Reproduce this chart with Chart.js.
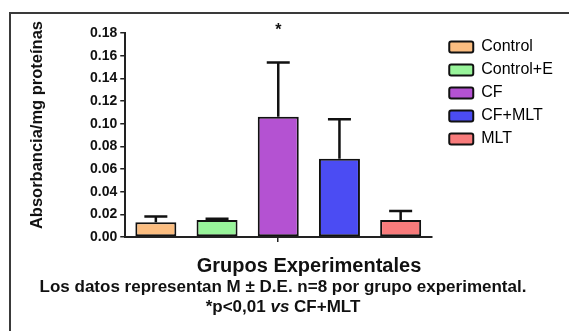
<!DOCTYPE html>
<html lang="es">
<head>
    <meta charset="UTF-8">
    <title>Absorbancia por grupo experimental</title>
    <script src="https://cdn.jsdelivr.net/npm/chart.js"></script>
    <style>
        body {
            margin: 0;
            width: 569px;
            height: 331px;
            overflow: hidden;
            background: #fff;
            color: #111;
            font-family: 'Liberation Sans', Arial, sans-serif;
            position: relative;
        }
        .frame {
            position: absolute;
            left: 9px;
            top: 12px;
            width: 600px;
            height: 400px;
            border-top: 2px solid #3a3a3a;
            border-left: 2px solid #3a3a3a;
        }
        .chart-wrapper {
            position: absolute;
            left: 0;
            top: 0;
            width: 569px;
            height: 331px;
        }
        .y-title {
            position: absolute;
            left: -84px;
            top: 115px;
            width: 240px;
            height: 20px;
            line-height: 20px;
            text-align: center;
            font-weight: bold;
            font-size: 16.5px;
            transform: rotate(-90deg);
        }
        .x-title {
            position: absolute;
            left: 0;
            width: 618px;
            top: 254px;
            line-height: 22px;
            text-align: center;
            font-weight: bold;
            font-size: 20px;
        }
        .caption {
            position: absolute;
            left: 0;
            width: 566px;
            top: 277px;
            line-height: 20px;
            text-align: center;
            font-weight: bold;
            font-size: 17px;
        }
    </style>
</head>
<body>
    <div class="frame"></div>
    <div class="chart-wrapper">
        <canvas id="absChart"></canvas>
    </div>
    <div class="y-title">Absorbancia/mg proteínas</div>
    <div class="x-title">Grupos Experimentales</div>
    <div class="caption">
        Los datos representan M ± D.E. n=8 por grupo experimental.<br>
        *p&lt;0,01 <i>vs</i> CF+MLT
    </div>

    <script>
        const groups = ['Control', 'Control+E', 'CF', 'CF+MLT', 'MLT'];
        const means = [0.013, 0.015, 0.106, 0.069, 0.015];
        const sds = [0.005, 0.001, 0.048, 0.035, 0.008];
        const significance = ['', '', '*', '', ''];
        const yMin = 0, yMax = 0.18, yStep = 0.02;

        const colors = ['#fbbd80', '#98f49a', '#b452d2', '#4b4cf3', '#f87b7b'];

        Chart.defaults.font.family = "'Liberation Sans', Arial, sans-serif";
        Chart.defaults.color = '#111';

        // draws the upward SD whiskers and the significance mark
        const errorBars = {
            id: 'errorBars',
            afterDatasetsDraw(chart) {
                const { ctx, chartArea, scales: { x, y } } = chart;
                ctx.save();
                ctx.strokeStyle = '#111';
                ctx.fillStyle = '#111';
                ctx.lineWidth = 2.5;
                means.forEach((m, i) => {
                    const px = x.getPixelForValue(i);
                    const top = y.getPixelForValue(m + sds[i]);
                    ctx.beginPath();
                    ctx.moveTo(px, y.getPixelForValue(m));
                    ctx.lineTo(px, top);
                    ctx.moveTo(px - 11.5, top);
                    ctx.lineTo(px + 11.5, top);
                    ctx.stroke();
                    if (significance[i]) {
                        ctx.font = "bold 16px 'Liberation Sans', Arial, sans-serif";
                        ctx.textAlign = 'center';
                        ctx.textBaseline = 'alphabetic';
                        ctx.fillText(significance[i], px, chartArea.top + 2);
                    }
                });
                ctx.restore();
            }
        };

        // nudge the legend a bit away from the plot
        const legendShift = {
            id: 'legendShift',
            afterLayout(chart) {
                const lg = chart.legend;
                lg.left += 11;
                lg.right += 11;
                lg.top -= 1;
                lg.bottom -= 1;
            }
        };

        new Chart(document.getElementById('absChart'), {
            type: 'bar',
            data: {
                labels: groups,
                datasets: [{
                    data: means,
                    backgroundColor: colors,
                    borderColor: '#111',
                    borderWidth: 2,
                    borderSkipped: false,
                    categoryPercentage: 1,
                    barPercentage: 0.67
                }]
            },
            options: {
                responsive: true,
                maintainAspectRatio: false,
                animation: false,
                layout: {
                    padding: { left: 87, top: 33, right: 23, bottom: 89 }
                },
                plugins: {
                    tooltip: { enabled: false },
                    legend: {
                        position: 'right',
                        align: 'start',
                        labels: {
                            boxWidth: 24,
                            boxHeight: 11,
                            padding: 7,
                            color: '#111',
                            font: { size: 16 },
                            useBorderRadius: true,
                            borderRadius: 2,
                            generateLabels: () => groups.map((g, i) => ({
                                text: g,
                                fillStyle: colors[i],
                                strokeStyle: '#111',
                                lineWidth: 2,
                                borderRadius: 2,
                                hidden: false,
                                index: i
                            }))
                        }
                    }
                },
                scales: {
                    x: {
                        ticks: { display: false },
                        grid: {
                            drawOnChartArea: false,
                            offset: false,
                            tickLength: 5,
                            lineWidth: 1.5,
                            color: ctx => ctx.index === 2 ? '#222' : 'rgba(0,0,0,0)'
                        },
                        border: { color: '#222', width: 2 }
                    },
                    y: {
                        min: yMin,
                        max: yMax,
                        ticks: {
                            stepSize: yStep,
                            padding: 3,
                            color: '#111',
                            font: { size: 14, weight: 'bold' },
                            callback: v => v.toFixed(2)
                        },
                        grid: {
                            drawOnChartArea: false,
                            tickLength: 5,
                            lineWidth: 1.5,
                            color: '#222'
                        },
                        border: { color: '#222', width: 2 }
                    }
                }
            },
            plugins: [errorBars, legendShift]
        });
    </script>
</body>
</html>
